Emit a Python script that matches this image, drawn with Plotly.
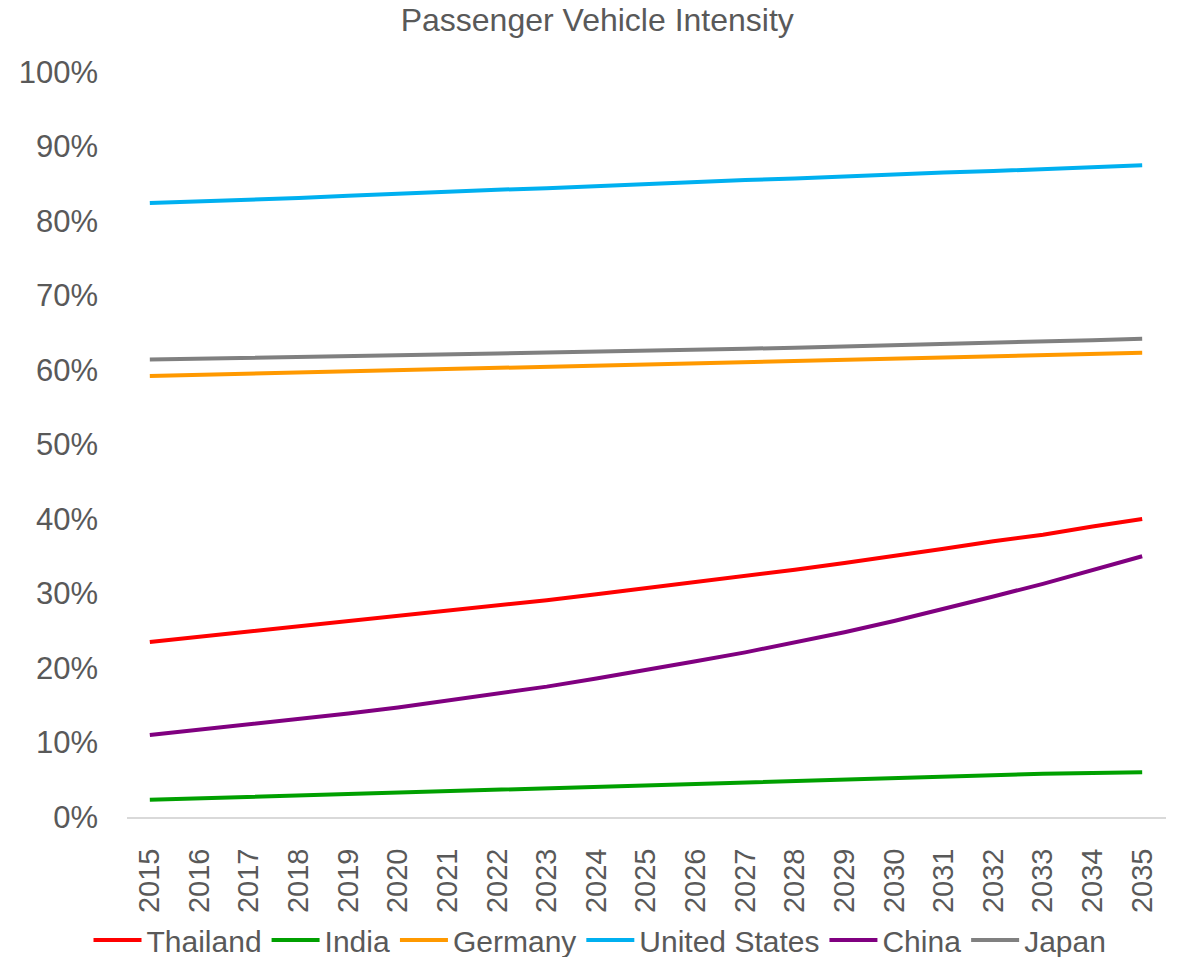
import plotly.graph_objs as go

anos = [str(a) for a in range(2015, 2036)]

thailand = [23.5, 24.2, 24.8, 25.5, 26.2, 26.9, 27.6, 28.4, 29.1, 29.9, 30.7,
            31.5, 32.4, 33.2, 34.1, 35.0, 36.0, 37.0, 37.9, 39.0, 40.0]
india = [2.3, 2.5, 2.7, 2.9, 3.1, 3.3, 3.5, 3.7, 3.9, 4.1, 4.3,
         4.5, 4.7, 4.9, 5.1, 5.2, 5.4, 5.6, 5.8, 5.9, 6.0]
germany = [59.2, 59.35, 59.5, 59.65, 59.8, 60.0, 60.15, 60.3, 60.45, 60.6, 60.75,
           60.9, 61.05, 61.2, 61.35, 61.5, 61.65, 61.8, 62.0, 62.15, 62.3]
usa = [82.4, 82.6, 82.9, 83.1, 83.4, 83.7, 83.9, 84.2, 84.4, 84.7, 84.9,
       85.2, 85.5, 85.7, 86.0, 86.2, 86.5, 86.7, 87.0, 87.2, 87.5]
china = [11.0, 11.7, 12.4, 13.1, 13.9, 14.7, 15.6, 16.5, 17.5, 18.6, 19.7,
         20.9, 22.1, 23.4, 24.8, 26.3, 27.9, 29.6, 31.3, 33.1, 35.0]
japan = [61.4, 61.5, 61.6, 61.75, 61.85, 61.9, 62.05, 62.2, 62.35, 62.45, 62.6,
         62.7, 62.85, 63.0, 63.15, 63.3, 63.45, 63.6, 63.8, 64.0, 64.2]

series = [
    ("Thailand", thailand, "#FF0000"),
    ("India", india, "#00A000"),
    ("Germany", germany, "#FF9900"),
    ("United States", usa, "#00B0F0"),
    ("China", china, "#800080"),
    ("Japan", japan, "#808080"),
]

fonte = "Arial, Liberation Sans, sans-serif"
cinza = "#595959"
W, H = 1178, 957

fig = go.Figure()
for nome, valores, cor in series:
    fig.add_trace(go.Scatter(
        x=anos, y=[v / 100 for v in valores],
        mode="lines", name=nome,
        line=dict(color=cor, width=4)
    ))

# margens zeradas (sem autoexpand) e area do grafico definida pelos dominios dos eixos
fig.update_layout(
    width=W, height=H,
    paper_bgcolor="white", plot_bgcolor="white",
    margin=dict(l=0, r=0, t=0, b=0, autoexpand=False),
    font=dict(family=fonte, size=30, color=cinza),
    title=dict(text="Passenger Vehicle Intensity", x=0.507, xanchor="center",
               y=0.979, yanchor="middle", font=dict(size=32, color=cinza)),
    showlegend=True,
    legend=dict(orientation="h", x=600 / W, xanchor="center",
                y=(H - 940) / H, yanchor="middle",
                font=dict(size=30, color=cinza), itemwidth=48, tracegroupgap=0),
)
fig.update_xaxes(
    type="category", range=[-0.46, 20.48], domain=[127 / W, 1166 / W],
    showgrid=False, showline=True, linecolor="#D9D9D9", linewidth=2,
    tickangle=-90, ticks="", ticklabelstandoff=18,
    tickfont=dict(size=29, color=cinza)
)
fig.update_yaxes(
    range=[0, 1], dtick=0.1, tickformat=".0%", domain=[(H - 817) / H, (H - 72) / H],
    showgrid=False, showline=False, zeroline=False,
    ticks="", ticklabelstandoff=28,
    tickfont=dict(size=31, color=cinza)
)

# tira a margem padrao do body (8px) pra figura ocupar a janela toda
fig.write_html("out.html", config={"displayModeBar": False},
               post_script="document.body.style.margin='0';")
